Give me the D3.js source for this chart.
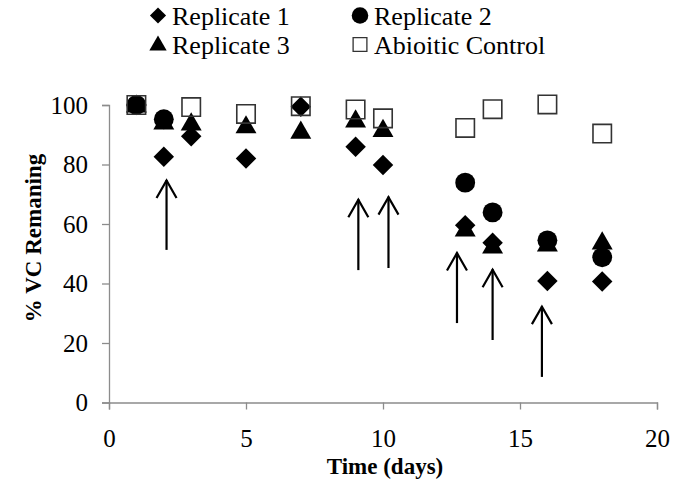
<!DOCTYPE html>
<html>
<head>
<meta charset="utf-8">
<script src="https://cdn.jsdelivr.net/npm/d3@7"></script>
<style>
  html, body { margin: 0; padding: 0; background: #fff; }
  svg { display: block; }
  svg text { font-family: "Liberation Serif", "Times New Roman", serif; }
</style>
</head>
<body>
<svg id="chart" width="673" height="500"></svg>
<script>
// ---- data ----
const rep1Days = [1, 2, 3, 5, 7, 9, 10, 13, 14, 16, 18];
const rep1Vals = [100, 82.6, 89.5, 82, 99.4, 86, 79.8, 59.6, 53.7, 40.8, 40.7];

const rep2Days = [1, 2, 13, 14, 16, 18];
const rep2Vals = [100, 95.2, 73.9, 63.9, 54.5, 48.8];

const rep3Days = [1, 2, 3, 5, 7, 9, 10, 13, 14, 16, 18];
const rep3Vals = [100, 94.3, 94, 93, 91.2, 95, 91.8, 58.3, 52.6, 53.3, 54];

const abioDays = [1, 3, 5, 7, 9, 10, 13, 14, 16, 18];
const abioVals = [100, 99.3, 97, 99.6, 98.5, 95.5, 92.3, 98.6, 100.2, 90.4];

const seriesNames = ["Replicate 1", "Replicate 2", "Replicate 3", "Abioitic Control"];

// arrow annotations (day, tip value, base value)
const arrowDays  = [2.1, 9.1, 10.2, 12.7, 14.0, 15.8];
const arrowTips  = [74.8, 68.3, 69.2, 50.4, 44.8, 32.4];
const arrowBases = [51.3, 44.5, 45.2, 26.7, 21.0, 8.6];

const xTicks = [0, 5, 10, 15, 20];
const yTicks = [0, 20, 40, 60, 80, 100];
const xTitle = "Time (days)";
const yTitle = "% VC Remaning";

// ---- chart ----
const FONT = "'Liberation Serif', 'Times New Roman', serif";
const svg = d3.select("#chart");
const x = d3.scaleLinear().domain([0, 20]).range([109, 657]);
const y = d3.scaleLinear().domain([0, 100]).range([402.5, 105]);
const axisColor = "#8c8c8c";

// axes
const gx = svg.append("g").attr("transform", `translate(0,${y(0)})`)
  .call(d3.axisBottom(x).tickValues(xTicks).tickFormat(d3.format("d")).tickSizeOuter(0).tickSize(7).tickPadding(20));
const gy = svg.append("g").attr("transform", `translate(${x(0)},0)`)
  .call(d3.axisLeft(y).tickValues(yTicks).tickFormat(d3.format("d")).tickSizeOuter(0).tickSize(7).tickPadding(14));
[gx, gy].forEach(g => {
  g.attr("font-family", FONT).attr("font-size", 25);
  g.select(".domain").attr("stroke", axisColor).attr("stroke-width", 1.3);
  g.selectAll(".tick line").attr("stroke", axisColor).attr("stroke-width", 1.3);
  g.selectAll(".tick text").attr("fill", "#000").attr("font-family", FONT).style("font-size", "25px");
});

// axis titles
svg.append("text").attr("x", (x(0) + x(20)) / 2 + 2).attr("y", 474)
  .attr("text-anchor", "middle").attr("font-family", FONT)
  .style("font-size", "23px").style("font-weight", "bold").text(xTitle);
svg.append("text").attr("transform", `translate(41,${238}) rotate(-90)`)
  .attr("text-anchor", "middle").attr("font-family", FONT)
  .style("font-size", "23px").style("font-weight", "bold").text(yTitle);

// symbols
const sym = {
  diamond: d3.symbol().type(d3.symbolSquare).size(210),
  circle: d3.symbol().type(d3.symbolCircle).size(310),
  triangle: d3.symbol().type(d3.symbolTriangle).size(190),
  square: d3.symbol().type(d3.symbolSquare).size(340)
};

function pts(days, vals) { return days.map((d, i) => ({ d, v: vals[i] })); }

// Replicate 1 - diamonds
svg.append("g").selectAll("path").data(pts(rep1Days, rep1Vals)).join("path")
  .attr("d", sym.diamond)
  .attr("transform", p => `translate(${x(p.d)},${y(p.v)}) rotate(45)`)
  .attr("fill", "#000");
// Replicate 2 - circles
svg.append("g").selectAll("path").data(pts(rep2Days, rep2Vals)).join("path")
  .attr("d", sym.circle)
  .attr("transform", p => `translate(${x(p.d)},${y(p.v)})`)
  .attr("fill", "#000");
// Replicate 3 - triangles
svg.append("g").selectAll("path").data(pts(rep3Days, rep3Vals)).join("path")
  .attr("d", sym.triangle)
  .attr("transform", p => `translate(${x(p.d)},${y(p.v) + 1.5})`)
  .attr("fill", "#000");
// Abiotic - open squares
svg.append("g").selectAll("path").data(pts(abioDays, abioVals)).join("path")
  .attr("d", sym.square)
  .attr("transform", p => `translate(${x(p.d)},${y(p.v)})`)
  .attr("fill", "none").attr("stroke", "#333").attr("stroke-width", 1.6);

// arrows
const ag = svg.append("g").attr("stroke", "#000").attr("stroke-width", 2.2).attr("fill", "none");
arrowDays.forEach((d, i) => {
  const ax = x(d), t = y(arrowTips[i]), b = y(arrowBases[i]);
  ag.append("line").attr("x1", ax).attr("x2", ax).attr("y1", b).attr("y2", t);
  ag.append("path").attr("d", `M${ax - 10},${t + 18} L${ax},${t + 0.5} L${ax + 10},${t + 18}`);
});

// legend
const legRows = [
  { name: seriesNames[0], shape: "diamond", lx: 158, ly: 15.5 },
  { name: seriesNames[1], shape: "circle", lx: 360, ly: 15.5 },
  { name: seriesNames[2], shape: "triangle", lx: 158, ly: 44.5 },
  { name: seriesNames[3], shape: "square", lx: 360, ly: 44.5 }
];
const legSym = {
  diamond: d3.symbol().type(d3.symbolSquare).size(130),
  circle: d3.symbol().type(d3.symbolCircle).size(215),
  triangle: d3.symbol().type(d3.symbolTriangle).size(130),
  square: d3.symbol().type(d3.symbolSquare).size(190)
};
legRows.forEach(r => {
  const g = svg.append("g");
  const p = g.append("path").attr("d", legSym[r.shape]);
  if (r.shape === "diamond") p.attr("transform", `translate(${r.lx},${r.ly}) rotate(45)`).attr("fill", "#000");
  else if (r.shape === "square") p.attr("transform", `translate(${r.lx},${r.ly})`).attr("fill", "none").attr("stroke", "#333").attr("stroke-width", 1.3);
  else p.attr("transform", `translate(${r.lx},${r.ly + (r.shape === "triangle" ? 1 : 0)})`).attr("fill", "#000");
  g.append("text").attr("x", r.lx + 14).attr("y", r.ly + 9.5).attr("font-family", FONT)
    .style("font-size", "26px").text(r.name);
});
</script>
</body>
</html>
